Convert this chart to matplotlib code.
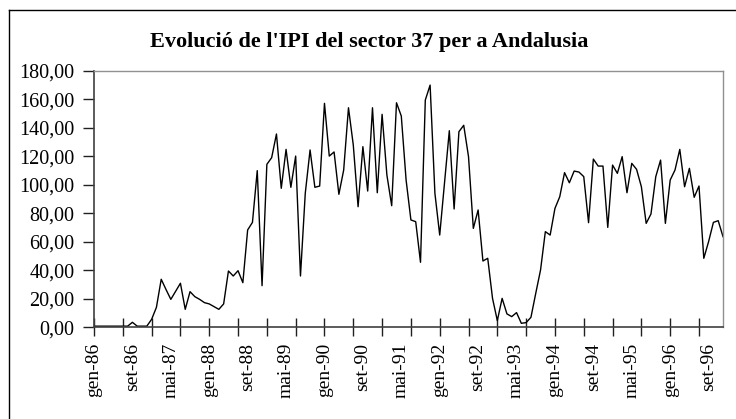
import matplotlib.pyplot as plt
from matplotlib.lines import Line2D
from matplotlib.ticker import FixedLocator, FuncFormatter
import numpy as np

plt.rcParams['font.family'] = ['Liberation Serif', 'DejaVu Serif']

# monthly IPI index, gen-86 .. des-96
ipi = [
    0.8, 0.8, 0.8, 0.8, 0.8, 0.8, 0.8, 0.8, 3.5, 0.8, 0.8, 0.8,          # 1986
    5.6, 14.0, 33.7, 26.5, 19.6, 25.2, 30.9, 12.6, 25.0, 21.5, 19.6, 17.3,  # 1987
    16.4, 14.5, 12.6, 16.4, 39.5, 36.0, 39.7, 31.3, 68.3, 73.6, 109.9, 29.2,  # 1988
    114.3, 119.0, 135.6, 97.5, 124.8, 98.2, 120.1, 36.0, 94.0, 124.4, 98.2, 99.1,  # 1989
    157.1, 120.1, 123.0, 93.3, 110.3, 154.0, 127.9, 84.6, 126.7, 95.6, 154.0, 94.4,  # 1990
    149.4, 106.8, 85.3, 157.5, 148.2, 103.3, 75.3, 74.1, 45.6, 159.4, 169.9, 94.0,  # 1991
    64.7, 101.0, 137.9, 83.0, 137.2, 141.7, 119.7, 69.4, 82.3, 46.5, 48.4, 20.3,  # 1992
    4.7, 20.3, 9.4, 7.5, 10.3, 2.8, 3.3, 7.0, 23.8, 40.2, 67.1, 64.7,  # 1993
    83.4, 91.6, 108.5, 101.4, 109.6, 108.9, 105.7, 73.4, 118.0, 113.1, 113.1, 70.1,  # 1994
    113.8, 108.0, 119.7, 94.4, 115.0, 110.8, 98.6, 72.9, 79.5, 105.7, 117.3, 72.9,  # 1995
    103.3, 110.3, 124.8, 98.6, 111.5, 91.2, 99.1, 48.4, 60.1, 73.6, 74.8, 63.6,  # 1996
]

month_names = ['gen', 'feb', 'mar', 'abr', 'mai', 'jun',
               'jul', 'ago', 'set', 'oct', 'nov', 'des']
years = list(range(86, 97))
months = [f'{m}-{y}' for y in years for m in month_names]

title = "Evolució de l'IPI del sector 37 per a Andalusia"

x = np.arange(len(ipi))

fig = plt.figure(figsize=(7.36, 4.19), dpi=100)
ax = fig.add_axes([94 / 736, 1 - 327.3 / 419, (723 - 94) / 736, (327.3 - 70.7) / 419])

ax.plot(x, ipi, color='black', linewidth=1.0)

ax.set_xlim(0, len(ipi) - 1)
ax.set_ylim(0, 180)

# labels every 8 months (no marks), tick marks every 6 months
ax.xaxis.remove_overlapping_locs = False
label_pos = np.arange(0, len(ipi), 8)
ax.set_xticks(label_pos)
ax.set_xticklabels([months[i] for i in label_pos], rotation=90, fontsize=14)
ax.tick_params(axis='x', which='major', length=0, pad=11)
ax.xaxis.set_minor_locator(FixedLocator(np.arange(0, len(ipi), 6)))
ax.tick_params(axis='x', which='minor', direction='inout', length=13,
               width=1, color='#202020')

ax.set_yticks(np.arange(0, 181, 20))
ax.yaxis.set_major_formatter(FuncFormatter(lambda v, p: f'{v:.2f}'.replace('.', ',')))
ax.tick_params(axis='y', direction='out', length=8, width=1, color='#202020',
               pad=6, labelsize=14.5)

for side in ['left', 'bottom']:
    ax.spines[side].set_color('#404040')
    ax.spines[side].set_linewidth(1.2)
for side in ['top', 'right']:
    ax.spines[side].set_color('#909090')
    ax.spines[side].set_linewidth(1.0)

fig.text(369 / 736, 1 - 42 / 419, title, ha='center', va='center',
         fontsize=16, fontweight='bold')

# chart area frame (only left and top edges are inside the picture)
fig.add_artist(Line2D([8.5 / 736, 8.5 / 736], [0, 1 - 10 / 419],
                      transform=fig.transFigure, color='black', linewidth=1.0))
fig.add_artist(Line2D([8.5 / 736, 1], [1 - 10 / 419, 1 - 10 / 419],
                      transform=fig.transFigure, color='black', linewidth=1.0))

fig.savefig('out.png', dpi=100)
